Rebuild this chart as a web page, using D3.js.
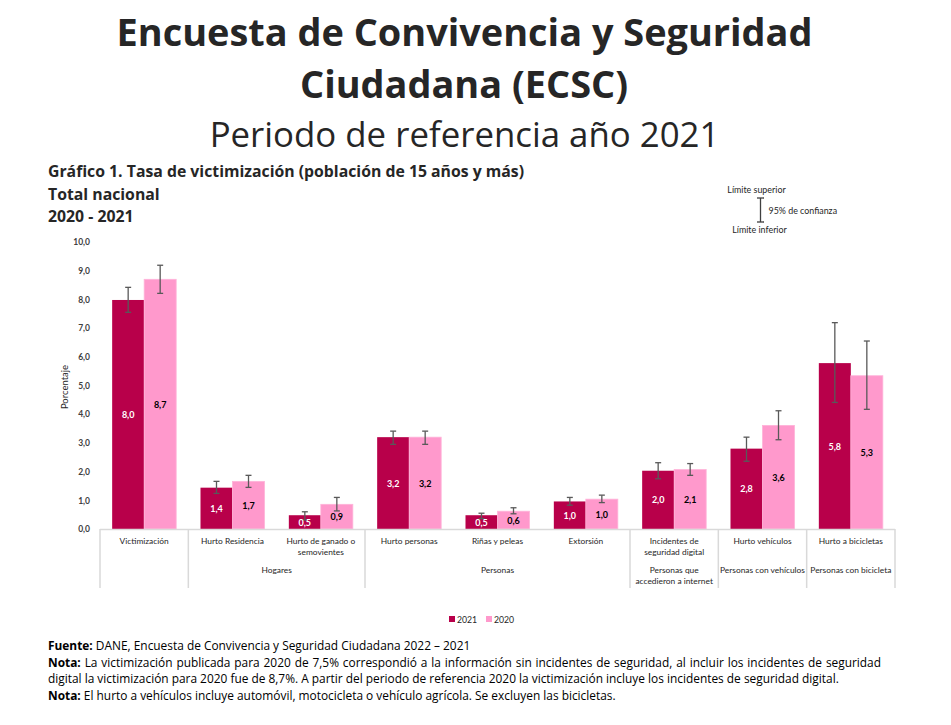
<!DOCTYPE html>
<html><head><meta charset="utf-8">
<script src="https://cdn.jsdelivr.net/npm/d3@7"></script>
<style>
html,body{margin:0;padding:0;background:#fff;}
svg{display:block;}
</style></head>
<body>
<svg id="c" width="951" height="725"></svg>
<script>
const categories = [["Victimización"],["Hurto Residencia"],["Hurto de ganado o","semovientes"],["Hurto personas"],["Riñas y peleas"],["Extorsión"],["Incidentes de","seguridad digital"],["Hurto vehículos"],["Hurto a bicicletas"]];
const series = ["2021","2020"];
const v2021 = [7.98, 1.44, 0.48, 3.20, 0.48, 0.96, 2.03, 2.80, 5.78];
const v2020 = [8.70, 1.66, 0.86, 3.20, 0.62, 1.04, 2.07, 3.61, 5.34];
const lo2021 = [7.55, 1.24, 0.31, 2.95, 0.36, 0.83, 1.75, 2.36, 4.41];
const hi2021 = [8.42, 1.66, 0.60, 3.41, 0.55, 1.10, 2.31, 3.20, 7.19];
const lo2020 = [8.21, 1.45, 0.63, 2.95, 0.53, 0.92, 1.87, 3.11, 4.17];
const hi2020 = [9.19, 1.87, 1.10, 3.41, 0.74, 1.18, 2.28, 4.12, 6.55];
const groups = [
  {label:[""], from:0, to:0},
  {label:["Hogares"], from:1, to:2},
  {label:["Personas"], from:3, to:5},
  {label:["Personas que","accedieron a internet"], from:6, to:6},
  {label:["Personas con vehículos"], from:7, to:7},
  {label:["Personas con bicicleta"], from:8, to:8}
];
const yTicks = [0,1,2,3,4,5,6,7,8,9,10];

const colors = {"2021":"#B8004A","2020":"#FF99CC"};
const txt = "#262626";
const svg = d3.select("#c");
const F = "'Open Sans', sans-serif";
const L = "Lato, 'Open Sans', sans-serif";

// Titles
svg.append("text").attr("x",464.5).attr("y",46).attr("text-anchor","middle")
  .attr("font-family",F).attr("font-weight","bold").attr("font-size",37.9).attr("fill",txt)
  .text("Encuesta de Convivencia y Seguridad");
svg.append("text").attr("x",464).attr("y",98).attr("text-anchor","middle")
  .attr("font-family",F).attr("font-weight","bold").attr("font-size",37.9).attr("fill",txt)
  .text("Ciudadana (ECSC)");
svg.append("text").attr("x",464.5).attr("y",147).attr("text-anchor","middle")
  .attr("font-family",F).attr("font-size",34.8).attr("fill",txt)
  .text("Periodo de referencia año 2021");
const sub = ["Gráfico 1. Tasa de victimización (población de 15 años y más)","Total nacional","2020 - 2021"];
sub.forEach((s,i)=>svg.append("text").attr("x",48).attr("y",177+i*22.5)
  .attr("font-family",F).attr("font-weight","bold").attr("font-size",15.8).attr("fill",txt).text(s));

// Scales
const x = d3.scaleBand().domain(d3.range(categories.length)).range([100,895]).padding(0);
const xs = d3.scaleBand().domain(series).range([0,x.bandwidth()]).paddingInner(0).paddingOuter(0.38);
const y = d3.scaleLinear().domain([0,10]).range([529,242]);

// Y axis
const yAxis = svg.append("g").attr("transform","translate(90,0)")
  .call(d3.axisLeft(y).tickValues(yTicks).tickSize(0).tickFormat(d=>d3.format(".1f")(d).replace(".",",")));
yAxis.select(".domain").remove();
yAxis.selectAll("text").attr("font-family",L).attr("font-size",8.5).attr("fill","#404040").attr("font-weight","bold").attr("x",0);

svg.append("text").attr("transform","translate(68,387) rotate(-90)").attr("text-anchor","middle")
  .attr("font-family",L).attr("font-size",9.5).attr("fill",txt).text("Porcentaje");

// Bars
const data = [];
categories.forEach((c,i)=>{
  data.push({i, s:"2021", v:v2021[i], lo:lo2021[i], hi:hi2021[i]});
  data.push({i, s:"2020", v:v2020[i], lo:lo2020[i], hi:hi2020[i]});
});
const g = svg.append("g");
g.selectAll("rect.bar").data(data).join("rect").attr("class","bar")
  .attr("x",d=>x(d.i)+xs(d.s)).attr("width",xs.bandwidth())
  .attr("y",d=>y(d.v)).attr("height",d=>y(0)-y(d.v))
  .attr("fill",d=>colors[d.s])
  .attr("stroke",d=>d.s==="2020"?"#FFB3D9":"none").attr("stroke-width",0.8);

// Error bars
const eg = g.selectAll("g.err").data(data).join("g").attr("class","err")
  .attr("stroke","#595959").attr("stroke-width",1.3);
eg.append("line").attr("x1",d=>x(d.i)+xs(d.s)+xs.bandwidth()/2).attr("x2",d=>x(d.i)+xs(d.s)+xs.bandwidth()/2)
  .attr("y1",d=>y(d.lo)).attr("y2",d=>y(d.hi));
["lo","hi"].forEach(k=>{
  eg.append("line").attr("x1",d=>x(d.i)+xs(d.s)+xs.bandwidth()/2-3).attr("x2",d=>x(d.i)+xs(d.s)+xs.bandwidth()/2+3)
    .attr("y1",d=>y(d[k])).attr("y2",d=>y(d[k]));
});

// Value labels
g.selectAll("text.val").data(data).join("text").attr("class","val")
  .attr("x",d=>x(d.i)+xs(d.s)+xs.bandwidth()/2)
  .attr("y",d=>Math.min((y(d.v)+y(0))/2+3.5, y(0)-1))
  .attr("text-anchor","middle").attr("font-family",L).attr("font-weight","bold").attr("font-size",9)
  .attr("fill",d=>d.s==="2021"?"#ffffff":"#000000")
  .text(d=>d3.format(".1f")(d.v).replace(".",","));

// Category axis box
const axc = "#d9d9d9";
svg.append("line").attr("x1",x.range()[0]).attr("x2",x.range()[1]).attr("y1",y(0)+0.5).attr("y2",y(0)+0.5)
  .attr("stroke",axc).attr("stroke-width",1.5);
const bounds = [0].concat(groups.map(gr=>gr.to+1));
svg.selectAll("line.div").data(bounds).join("line").attr("class","div")
  .attr("x1",d=>x.range()[0]+d*x.step()).attr("x2",d=>x.range()[0]+d*x.step())
  .attr("y1",y(0)).attr("y2",588).attr("stroke",axc).attr("stroke-width",1.5);

categories.forEach((c,i)=>{
  c.forEach((ln,j)=>svg.append("text").attr("x",x(i)+x.bandwidth()/2).attr("y",544+j*11)
    .attr("text-anchor","middle").attr("font-family",L).attr("font-size",8.4).attr("fill",txt).text(ln));
});
groups.forEach(gr=>{
  const cx = (x(gr.from)+x(gr.to)+x.bandwidth())/2;
  gr.label.forEach((ln,j)=>svg.append("text").attr("x",cx).attr("y",573+j*11)
    .attr("text-anchor","middle").attr("font-family",L).attr("font-size",8.4).attr("fill",txt).text(ln));
});

// Legend
const leg = [{s:"2021",x:449},{s:"2020",x:486}];
leg.forEach(l=>{
  svg.append("rect").attr("x",l.x).attr("y",616).attr("width",6).attr("height",6).attr("fill",colors[l.s]);
  svg.append("text").attr("x",l.x+8).attr("y",622.5).attr("font-family",L).attr("font-size",8.7).attr("fill",txt).text(l.s);
});

// Confidence legend
svg.append("text").attr("x",756.5).attr("y",193).attr("text-anchor","middle").attr("font-family",L).attr("font-size",8.9).attr("fill",txt).text("Límite superior");
svg.append("text").attr("x",759.5).attr("y",233).attr("text-anchor","middle").attr("font-family",L).attr("font-size",8.9).attr("fill",txt).text("Límite inferior");
svg.append("text").attr("x",768.5).attr("y",213.5).attr("font-family",L).attr("font-size",8.9).attr("fill",txt).text("95% de confianza");
const ci = svg.append("g").attr("stroke","#404040").attr("stroke-width",1.3);
ci.append("line").attr("x1",760.5).attr("x2",760.5).attr("y1",198).attr("y2",222);
ci.append("line").attr("x1",757).attr("x2",764).attr("y1",198).attr("y2",198);
ci.append("line").attr("x1",757).attr("x2",764).attr("y1",222).attr("y2",222);

// Footer
const foot = [
  {b:"Fuente:", t:" DANE, Encuesta de Convivencia y Seguridad Ciudadana 2022 – 2021", just:0},
  {b:"Nota:", t:" La victimización publicada para 2020 de 7,5% correspondió a la información sin incidentes de seguridad, al incluir los incidentes de seguridad", just:881},
  {b:"", t:"digital la victimización para 2020 fue de 8,7%. A partir del periodo de referencia 2020 la victimización incluye los incidentes de seguridad digital.", just:0},
  {b:"Nota:", t:" El hurto a vehículos incluye automóvil, motocicleta o vehículo agrícola. Se excluyen las bicicletas.", just:0}
];
foot.forEach((f,i)=>{
  const t = svg.append("text").attr("x",48).attr("y",650+i*16.6).attr("font-family",F).attr("font-size",11.9).attr("fill","#000");
  if(f.b) t.append("tspan").attr("font-weight","bold").text(f.b);
  t.append("tspan").text(f.t);
  if(f.just){
    const len = t.node().getComputedTextLength();
    const full = f.b + f.t;
    const nsp = (full.match(/ /g)||[]).length;
    const ws = (f.just-48-len)/nsp;
    t.attr("word-spacing",ws);
  }
});
</script>
</body></html>
